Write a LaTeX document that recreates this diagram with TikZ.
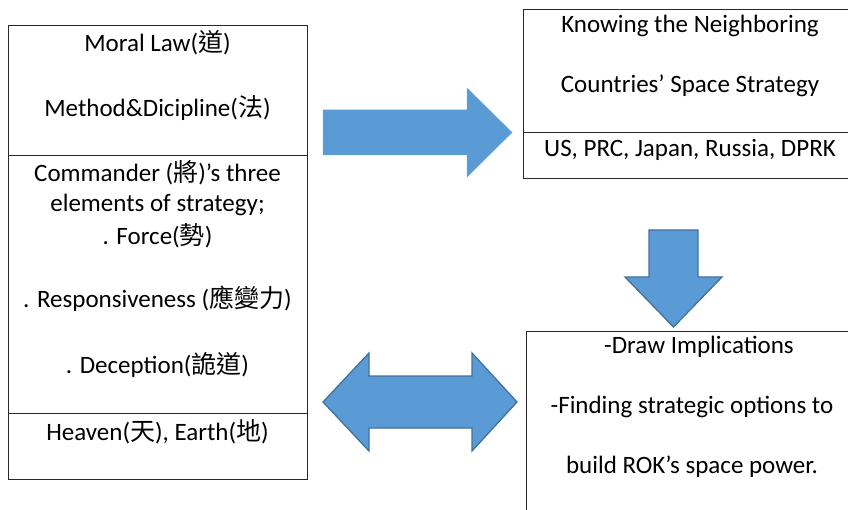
\documentclass[tikz,border=0pt]{standalone}
\usepackage{fontspec}
\setmainfont{Carlito}
\newfontfamily\cjk{Noto Sans CJK TC}
\definecolor{arrowfill}{RGB}{91,155,213}
\definecolor{arrowedge}{RGB}{65,113,156}
\definecolor{boxedge}{RGB}{40,40,40}
\begin{document}
\begin{tikzpicture}[x=1pt,y=-1pt,
  box/.style={draw=boxedge,line width=0.9pt,rectangle,inner sep=0pt,anchor=north west},
  divider/.style={draw=boxedge,line width=0.9pt},
  txt/.style={anchor=base,inner sep=0pt,font=\fontsize{25}{30}\selectfont},
  blockarrow/.style={fill=arrowfill,draw=arrowedge,line width=1.3pt,line join=miter},
  plainarrow/.style={fill=arrowfill,draw=arrowfill!90!white,line width=0.5pt}]
\useasboundingbox (0,0) rectangle (848,510);
\clip (0,0) rectangle (848,510);

% left box
\node[box,minimum width=299pt,minimum height=454pt] (L) at (8,25) {};
\draw[divider] (L.west |- 0,155) -- (L.east |- 0,155);
\draw[divider] (L.west |- 0,413) -- (L.east |- 0,413);
\node[txt] (l1) at (157.5,52) {Moral Law({\cjk 道})};
\node[txt] (l2) at (157.5,117) {Method\&Dicipline({\cjk 法})};
\node[txt] (l3) at (157.5,182) {Commander ({\cjk 將})’s three};
\node[txt] (l4) at (157.5,212) {elements of strategy;};
\node[txt] (l5) at (157.5,245) {. Force({\cjk 勢})};
\node[txt] (l6) at (157.5,308) {. Responsiveness ({\cjk 應變力})};
\node[txt] (l7) at (157.5,373) {. Deception({\cjk 詭道})};
\node[txt] (l8) at (157.5,440) {Heaven({\cjk 天}), Earth({\cjk 地})};

% top right box
\node[box,minimum width=334pt,minimum height=168.5pt] (TR) at (523,9.5) {};
\draw[divider] (TR.west |- 0,132) -- (TR.east |- 0,132);
\node[txt] (t1) at (690,33) {Knowing the Neighboring};
\node[txt] (t2) at (690,93) {Countries’ Space Strategy};
\node[txt] (t3) at (690,157) {US, PRC, Japan, Russia, DPRK};

% bottom right box
\node[box,minimum width=334pt,minimum height=200pt] (BR) at (526,331) {};
\node[txt] (b1) at (699,353) {-Draw Implications};
\node[txt] (b2) at (692,413) {-Finding strategic options to};
\node[txt] (b3) at (692,473) {build ROK’s space power.};

% right arrow
\path[plainarrow] (323,110) -- (467,110) -- (467,88) -- (512,132.5) -- (467,177) -- (467,155) -- (323,155) -- cycle;
% down arrow
\path[blockarrow] (649,230) -- (698,230) -- (698,277) -- (722,277) -- (673.5,327) -- (625,277) -- (649,277) -- cycle;
% double arrow
\path[blockarrow] (323,402) -- (369,353) -- (369,376) -- (472,376) -- (472,353) -- (517,402) -- (472,451) -- (472,428) -- (369,428) -- (369,451) -- cycle;
\end{tikzpicture}
\end{document}
